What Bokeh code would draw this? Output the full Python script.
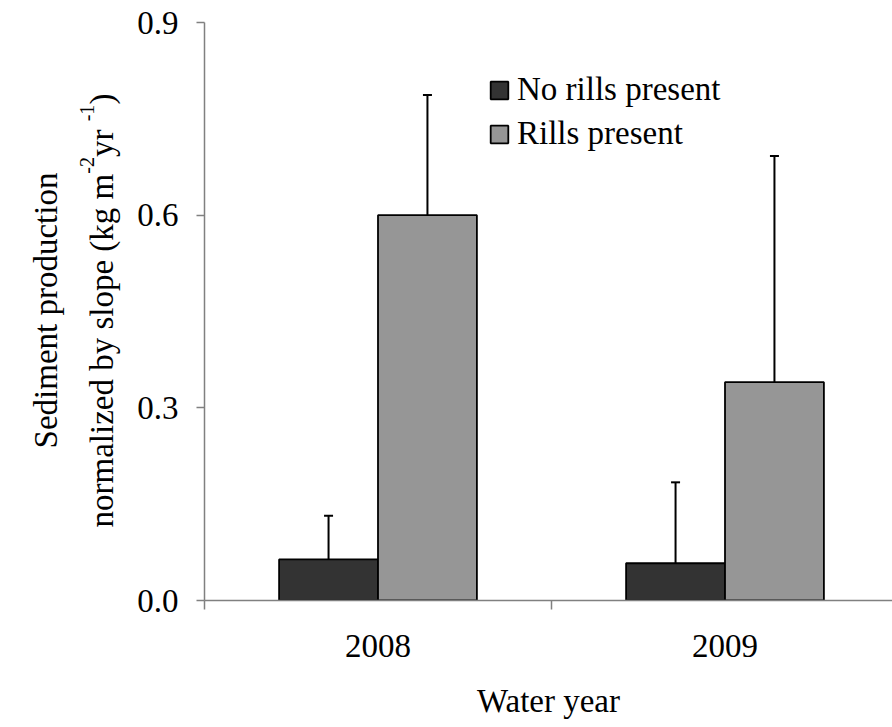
import numpy as np
from bokeh.plotting import figure
from bokeh.layouts import row
from bokeh.models import (Range1d, FixedTicker, Legend, LegendItem, Label,
                          Whisker, TeeHead, ColumnDataSource)
from bokeh.embed import file_html
from bokeh.resources import INLINE

# Sediment production normalized by slope (kg m-2 yr-1), mean and upper error
years = ["2008", "2009"]
no_rills = [0.064, 0.058]
no_rills_err = [0.068, 0.126]
rills = [0.600, 0.340]
rills_err = [0.187, 0.352]

y_ticks = [0.0, 0.3, 0.6, 0.9]
y_tick_labels = ["0.0", "0.3", "0.6", "0.9"]

FONT = "Liberation Serif"
DARK = "#333333"
LIGHT = "#969696"
AXIS = "#808080"

H = 727
TITLE_W = 130
FRAME_BOTTOM = 600  # frames of both panels share this bottom edge in the row

centers = np.arange(len(years)) + 0.5
bar_w = 0.285

p = figure(width=892 - TITLE_W, height=H, output_backend="svg", toolbar_location=None,
           x_range=Range1d(0, 1.9827), y_range=Range1d(0, 0.9),
           min_border_left=204 - TITLE_W, min_border_right=0, min_border_top=22,
           min_border_bottom=H - FRAME_BOTTOM)
p.outline_line_color = None
p.grid.visible = False
p.background_fill_color = "white"
p.border_fill_color = "white"

src_a = ColumnDataSource(dict(x=centers - bar_w / 2, top=no_rills,
                              up=np.array(no_rills) + np.array(no_rills_err)))
src_b = ColumnDataSource(dict(x=centers + bar_w / 2, top=rills,
                              up=np.array(rills) + np.array(rills_err)))

r_a = p.vbar(x="x", top="top", bottom=0, width=bar_w, source=src_a,
             fill_color=DARK, line_color="black", line_width=1.8)
r_b = p.vbar(x="x", top="top", bottom=0, width=bar_w, source=src_b,
             fill_color=LIGHT, line_color="black", line_width=1.8)

for src in (src_a, src_b):
    w = Whisker(base="x", lower="top", upper="up", source=src,
                line_color="black", line_width=2, lower_head=None,
                upper_head=TeeHead(size=9, line_color="black", line_width=2))
    p.add_layout(w)

# x axis: category labels centred, ticks on category boundaries
xa = p.xaxis[0]
xa.ticker = FixedTicker(ticks=list(centers), minor_ticks=list(range(len(years) + 1)))
xa.major_label_overrides = {float(c): y for c, y in zip(centers, years)}
xa.major_tick_line_color = None
xa.major_tick_out = 0
xa.major_tick_in = 0
xa.minor_tick_line_color = AXIS
xa.minor_tick_line_width = 1.5
xa.minor_tick_out = 9
xa.minor_tick_in = 0
xa.major_label_standoff = 25
xa.axis_label = "Water year"
xa.axis_label_standoff = 23

ya = p.yaxis[0]
ya.ticker = FixedTicker(ticks=y_ticks)
ya.major_label_overrides = {t: s for t, s in zip(y_ticks, y_tick_labels)}
ya.minor_tick_line_color = None
ya.major_tick_line_color = AXIS
ya.major_tick_line_width = 1.5
ya.major_tick_out = 8
ya.major_tick_in = 0
ya.major_label_standoff = 18

for ax in (xa, ya):
    ax.axis_line_color = AXIS
    ax.axis_line_width = 1.5
    ax.major_label_text_font = FONT
    ax.major_label_text_font_size = "33px"
    ax.major_label_text_color = "black"
    ax.axis_label_text_font = FONT
    ax.axis_label_text_font_size = "33px"
    ax.axis_label_text_font_style = "normal"
    ax.axis_label_text_color = "black"

legend = Legend(items=[LegendItem(label="No rills present", renderers=[r_a]),
                       LegendItem(label="Rills present", renderers=[r_b])],
                location=(284, 448), label_text_font=FONT,
                label_text_font_size="33px", label_text_color="black",
                glyph_width=22, glyph_height=22, label_standoff=7,
                padding=0, margin=0, spacing=7, border_line_color=None,
                background_fill_alpha=0)
p.add_layout(legend)

# narrow panel on the left holding the rotated two-line y title
t = figure(width=TITLE_W, height=H, output_backend="svg", toolbar_location=None,
           x_range=Range1d(0, TITLE_W), y_range=Range1d(0, 1),
           x_axis_location=None, y_axis_location=None,
           min_border_left=0, min_border_right=0, min_border_top=0,
           min_border_bottom=0)
t.outline_line_color = None
t.grid.visible = False
t.border_fill_color = "white"


def ylab(text, x, y_px, size, align="left"):
    # y_px is measured downward from the top of the page
    t.add_layout(Label(x=x, y=FRAME_BOTTOM - y_px, x_units="screen", y_units="screen",
                       text=text, angle=np.pi / 2, text_font=FONT,
                       text_font_size=size, text_color="black", text_align=align,
                       text_baseline="alphabetic"))


ylab("Sediment production", 45, 310, "33px", align="center")
base, sup = 101, 86
y_px = 527
segments = [("normalized by slope (kg m", base, "33px", 353.8),
            ("-2", sup, "20px", 16.7),
            (" yr", base, "33px", 35.7),
            ("-1", sup, "20px", 16.7),
            (" )", base, "33px", 19.2)]
for text, x, size, length in segments:
    ylab(text, x, y_px, size)
    y_px -= length

layout = row(t, p)
open("out.html", "w").write(file_html(layout, INLINE))
